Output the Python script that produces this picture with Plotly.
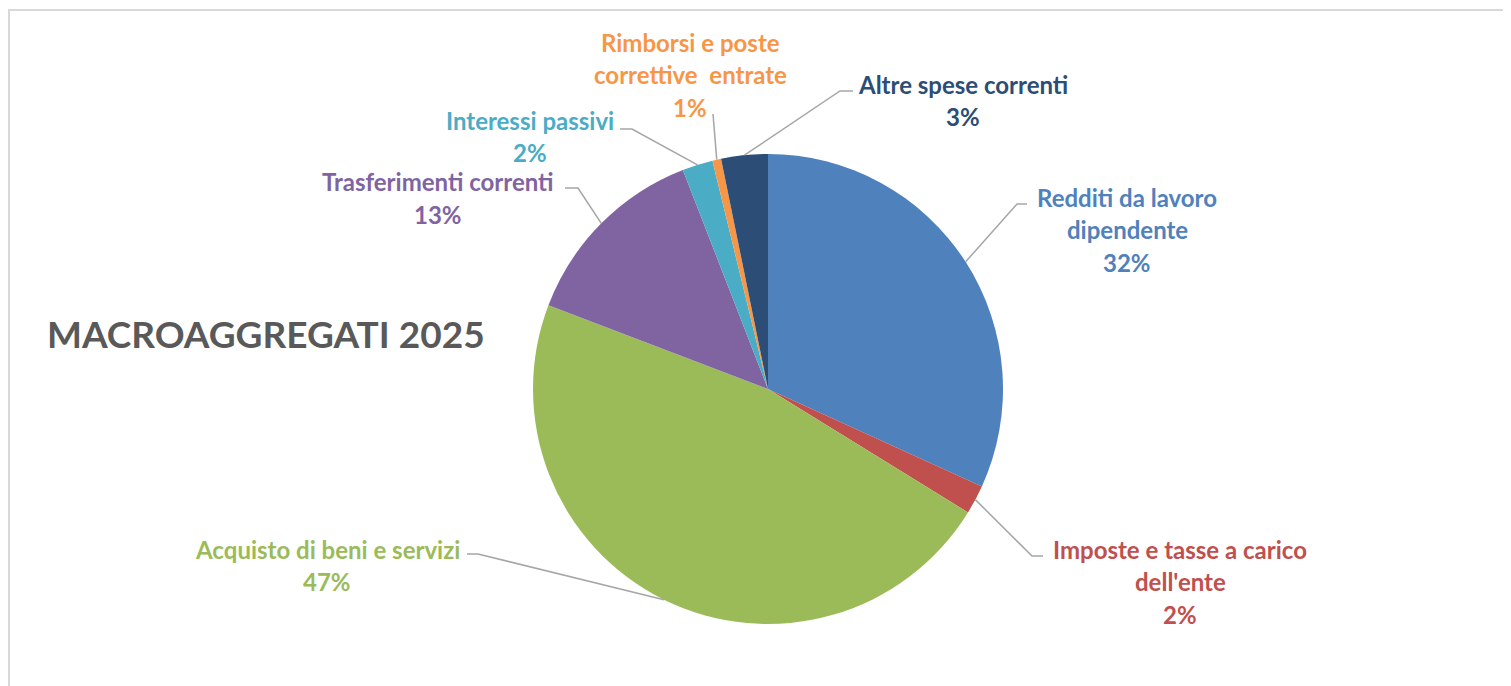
import math
import plotly.graph_objects as go

# ---- data ----
categories = ["Redditi da lavoro dipendente", "Imposte e tasse a carico dell'ente",
              "Acquisto di beni e servizi", "Trasferimenti correnti", "Interessi passivi",
              "Rimborsi e poste correttive  entrate", "Altre spese correnti"]
values = [31.8, 2.0, 47.0, 13.3, 2.1, 0.6, 3.2]
label_lines = [["Redditi da lavoro", "dipendente"],
               ["Imposte e tasse a carico", "dell'ente"],
               ["Acquisto di beni e servizi"],
               ["Trasferimenti correnti"],
               ["Interessi passivi"],
               ["Rimborsi e poste", "correttive  entrate"],
               ["Altre spese correnti"]]
colors = ["#4F81BD", "#C0504D", "#9BBB59", "#8064A2", "#4BACC6", "#F79646", "#2C4D75"]
text_colors = ["#4F81BD", "#C0504D", "#9BBB59", "#8064A2", "#4BACC6", "#F79646", "#2C4D75"]

# ---- layout constants (page pixels) ----
OFF = 8  # default body margin of the html page
W, H = 1511 - OFF, 686 - OFF
CX, CY, R = 768, 389, 235
label_pos = [(1127, 197), (1180, 549), (327, 549), (438, 182), (530, 120), (690, 42), (963, 84)]
leader_knee = [((1017, 204), (1027, 204)), ((1032, 556), (1043, 556)), ((478, 554), (467, 554)),
               ((578, 188), (565, 188)), ((632, 129), (620, 129)), ((713, 114), (713, 114)),
               ((840, 91), (853, 91))]
LINE_H = 32.5
FONT = "Lato, Open Sans, sans-serif"


def px(x):
    return (x - OFF) / W


def py(y):
    return 1 - (y - OFF) / H


fig = go.Figure()
fig.add_trace(go.Pie(
    labels=categories, values=values, sort=False, direction="clockwise", rotation=0,
    marker=dict(colors=colors, line=dict(width=0)), textinfo="none", hoverinfo="label+percent",
    showlegend=False,
    domain=dict(x=[px(CX - R), px(CX + R)], y=[py(CY + R), py(CY - R)]),
))

total = sum(values)
shapes = [dict(type="rect", xref="paper", yref="paper", x0=px(9), x1=px(1520), y0=py(700), y1=py(10),
               line=dict(color="#D9D9D9", width=2), fillcolor="rgba(0,0,0,0)", layer="below")]
annotations = []
cum = 0.0
for i, v in enumerate(values):
    mid = (cum + v / 2) / total
    cum += v
    ang = mid * 2 * math.pi
    ex, ey = CX + R * math.sin(ang), CY - R * math.cos(ang)
    (kx, ky), (tx, ty) = leader_knee[i]
    shapes.append(dict(type="path", xref="paper", yref="paper",
                       path=f"M {px(ex)},{py(ey)} L {px(kx)},{py(ky)} L {px(tx)},{py(ty)}",
                       line=dict(color="#A6A6A6", width=1.5)))
    pct = f"{round(v / total * 100)}%"
    lines = label_lines[i] + [pct]
    lx, ly = label_pos[i]
    for j, t in enumerate(lines):
        annotations.append(dict(x=px(lx), y=py(ly + j * LINE_H), xref="paper", yref="paper",
                                text=f"<b>{t}</b>", showarrow=False, xanchor="center", yanchor="middle",
                                borderpad=0,
                                font=dict(family=FONT, size=24, color=text_colors[i])))

annotations.append(dict(x=px(45), y=py(333), xref="paper", yref="paper", text="<b>MACROAGGREGATI 2025</b>",
                        showarrow=False, xanchor="left", yanchor="middle",
                        font=dict(family=FONT, size=37, color="#595959")))

fig.update_layout(width=W, height=H, margin=dict(l=0, r=0, t=0, b=0),
                  paper_bgcolor="white", plot_bgcolor="white",
                  shapes=shapes, annotations=annotations)
fig.write_html("out.html")
